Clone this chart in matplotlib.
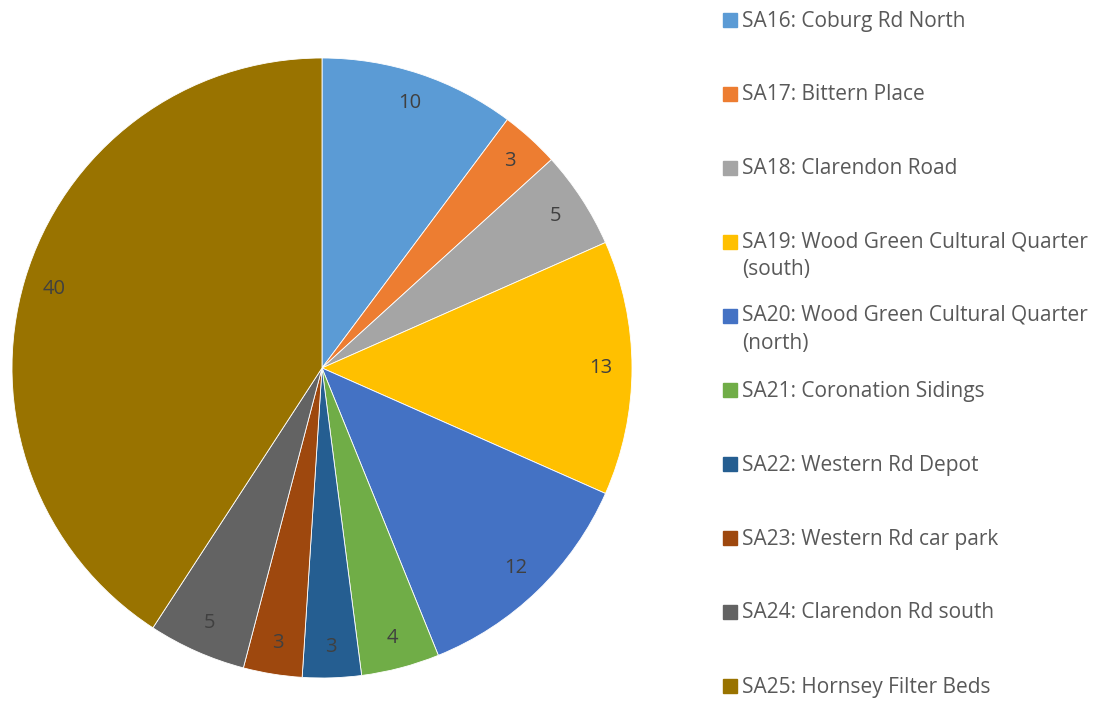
import matplotlib
matplotlib.use("Agg")
import matplotlib.pyplot as plt

categories = [
    "SA16: Coburg Rd North",
    "SA17: Bittern Place",
    "SA18: Clarendon Road",
    "SA19: Wood Green Cultural Quarter\n(south)",
    "SA20: Wood Green Cultural Quarter\n(north)",
    "SA21: Coronation Sidings",
    "SA22: Western Rd Depot",
    "SA23: Western Rd car park",
    "SA24: Clarendon Rd south",
    "SA25: Hornsey Filter Beds",
]
values = [10, 3, 5, 13, 12, 4, 3, 3, 5, 40]
colors = ["#5B9BD5", "#ED7D31", "#A5A5A5", "#FFC000", "#4472C4",
          "#70AD47", "#255E91", "#9E480E", "#636363", "#997300"]

plt.rcParams['font.family'] = ['Open Sans', 'DejaVu Sans']

W, H = 1097, 701
fig = plt.figure(figsize=(W / 100, H / 100), dpi=100)
cx, cy, r = 322, 368, 310
ax = fig.add_axes([(cx - r) / W, (H - cy - r) / H, 2 * r / W, 2 * r / H])
wedges, texts = ax.pie(values, colors=colors, startangle=90, counterclock=False,
                       labels=[str(v) for v in values], labeldistance=0.9,
                       wedgeprops=dict(edgecolor="white", linewidth=0.6),
                       textprops=dict(color="#404040", fontsize=14.5))
for t in texts:
    t.set_ha("center")
    t.set_va("center")
ax.set_xlim(-1, 1)
ax.set_ylim(-1, 1)
ax.set_aspect("equal")
ax.axis("off")

# legend
y0, step = 20, 74
for i, (lab, col) in enumerate(zip(categories, colors)):
    y = y0 + i * step
    fig.patches.append(plt.Rectangle((723 / W, 1 - (y + 7) / H), 14 / W, 14 / H,
                                     transform=fig.transFigure, color=col, figure=fig))
    if "\n" in lab:
        fig.text(742 / W, 1 - (y - 11) / H, lab, fontsize=15, color="#595959",
                 va="top", ha="left", linespacing=1.42)
    else:
        fig.text(742 / W, 1 - (y + 1) / H, lab, fontsize=15, color="#595959",
                 va="center", ha="left")

fig.savefig("out.png", dpi=100, facecolor="white")
